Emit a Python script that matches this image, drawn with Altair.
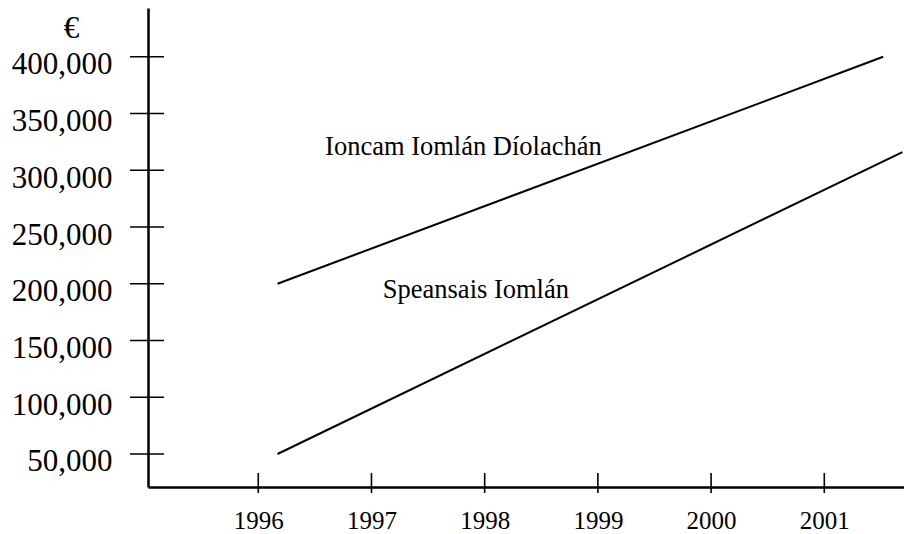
import altair as alt
import pandas as pd

# ---- data ----
years = [1996, 1997, 1998, 1999, 2000, 2001]
y_tick_values = [50000, 100000, 150000, 200000, 250000, 300000, 350000, 400000]

series = ["Ioncam Iomlán Díolachán", "Speansais Iomlán"]
start_year = [1996.17, 1996.17]
end_year = [2001.52, 2001.69]
start_value = [200000, 50000]
end_value = [400000, 316000]

label_text = ["Ioncam Iomlán Díolachán", "Speansais Iomlán"]
label_year = [1996.59, 1997.10]
label_value = [313500, 187500]

x_domain = [1995.026, 2001.704]
y_domain = [20900, 443000]

FONT = "Liberation Serif"

lines_df = pd.DataFrame(
    [{"series": s, "year": x0, "value": y0} for s, x0, y0 in zip(series, start_year, start_value)]
    + [{"series": s, "year": x1, "value": y1} for s, x1, y1 in zip(series, end_year, end_value)]
)
labels_df = pd.DataFrame({"text": label_text, "year": label_year, "value": label_value})
ytick_df = pd.DataFrame({"value": y_tick_values})
xtick_df = pd.DataFrame({"year": years})

W, H = 756, 479

x_scale = alt.Scale(domain=x_domain, nice=False, zero=False)
y_scale = alt.Scale(domain=y_domain, nice=False, zero=False)

x_axis = alt.Axis(
    values=years, format="d", title=None, grid=False, ticks=False,
    domainColor="black", domainWidth=2.5,
    labelFont=FONT, labelFontSize=25, labelColor="black", labelPadding=21,
)
y_axis = alt.Axis(
    values=y_tick_values, format=",d", grid=False, ticks=False,
    domainColor="black", domainWidth=2.5,
    labelFont=FONT, labelFontSize=31, labelColor="black", labelPadding=36,
    labelOffset=8,
    title="€", titleAngle=0, titleFont=FONT, titleFontSize=31,
    titleFontWeight="normal", titleColor="black", titleAlign="center",
    titleBaseline="alphabetic", titleX=-77, titleY=29,
)

base_lines = alt.Chart(lines_df).mark_line(color="black", strokeWidth=2).encode(
    x=alt.X("year:Q", scale=x_scale, axis=x_axis),
    y=alt.Y("value:Q", scale=y_scale, axis=y_axis),
    detail="series:N",
)

labels = alt.Chart(labels_df).mark_text(
    align="left", baseline="alphabetic", font=FONT, fontSize=26.5, color="black"
).encode(
    x=alt.X("year:Q", scale=x_scale),
    y=alt.Y("value:Q", scale=y_scale),
    text="text:N",
)

yticks = alt.Chart(ytick_df).mark_rule(color="black", strokeWidth=1.6, clip=False).encode(
    y=alt.Y("value:Q", scale=y_scale),
    x=alt.value(-18),
    x2=alt.value(16),
)

xticks = alt.Chart(xtick_df).mark_rule(color="black", strokeWidth=1.6, clip=False).encode(
    x=alt.X("year:Q", scale=x_scale),
    y=alt.value(H - 14),
    y2=alt.value(H + 6),
)

chart = alt.layer(base_lines, labels, yticks, xticks).properties(
    width=W, height=H,
    autosize=alt.AutoSizeParams(type="none"),
    padding={"left": 140, "top": 0, "right": 0, "bottom": 46},
    background="white",
).configure_view(stroke=None)

chart.save("out.html", embed_options={"renderer": "svg", "actions": False})
